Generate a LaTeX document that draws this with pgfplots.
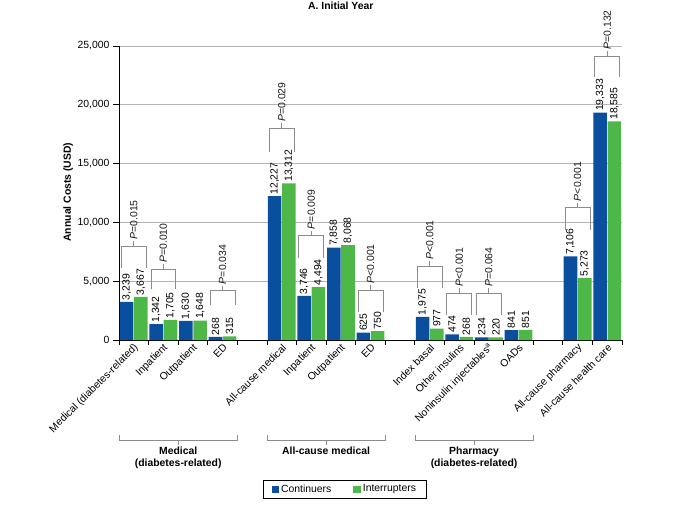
\documentclass[border=0pt]{standalone}
\usepackage{fontspec}
\setmainfont{Liberation Sans}
\usepackage{pgfplots}
\pgfplotsset{compat=1.18}
\definecolor{cblue}{HTML}{0A4F9E}
\definecolor{cgreen}{HTML}{4DB848}
\definecolor{brk}{HTML}{8C8C8C}
\definecolor{gridc}{HTML}{B4B4B4}
\newcommand{\fs}{\fontsize{10.4bp}{11.5bp}\selectfont}
\newcommand{\pbr}[4]{%
  \draw[brk, line width=0.8bp] (axis cs:#1-0.42,#2) -- (axis cs:#1-0.42,#3) -- (axis cs:#1+0.42,#3) -- (axis cs:#1+0.42,#2);
  \draw[brk, line width=0.8bp] (axis cs:#1,#3) -- (axis cs:#1,#3+425);
  \node[rotate=90, anchor=west, inner sep=1.5bp, font=\fs, text=black!90] at (axis cs:#1,#3+425) {\textit{P}#4};
}
\begin{document}
\begin{tikzpicture}[font=\fs]
\path[use as bounding box] (-119bp,-166bp) rectangle (562bp,340bp);
\begin{axis}[
  scale only axis, width=503bp, height=294bp,
  at={(0,0)}, anchor=south west,
  xmin=-0.5, xmax=16.5, ymin=0, ymax=25000,
  ybar, bar width=0.46,
  clip=false,
  axis x line*=bottom, axis y line*=left,
  axis line style={black, line width=0.8bp, -},
  ytick={0,5000,10000,15000,20000,25000},
  scaled y ticks=false,
  ymajorgrids, grid style={gridc, line width=0.7bp},
  tick align=outside,
  major tick length=6bp,
  minor tick length=5bp,
  tick style={black, line width=0.8bp},
  major x tick style=transparent,
  xtick={0,1,2,3,5,6,7,8,10,11,12,13,15,16},
  minor xtick={-0.5,0.5,1.5,2.5,3.5,4.5,5.5,6.5,7.5,8.5,9.5,10.5,11.5,12.5,13.5,14.5,15.5,16.5},
  xticklabels={Medical (diabetes-related),Inpatient,Outpatient,ED,All-cause medical,Inpatient,Outpatient,ED,Index basal,Other insulins,Noninsulin injectables\textsuperscript{a},OADs,All-cause pharmacy,All-cause health care},
  xticklabel style={rotate=45, anchor=east, font=\fs, inner sep=1bp, xshift=3bp, yshift=-2bp},
  yticklabel style={font=\fs},
  /pgf/number format/assume math mode=true,
  /pgf/number format/1000 sep={,},
  nodes near coords,
  nodes near coords style={rotate=90, anchor=west, inner sep=1.5bp, font=\fs, text=black},
  title={A. Initial Year},
  title style={at={(axis description cs:0.441,1.116)}, anchor=center, font=\fs\bfseries},
  ylabel={Annual Costs (USD)},
  ylabel style={at={(axis description cs:-0.101,0.503)}, anchor=center, font=\fs\bfseries},
  legend style={at={(axis description cs:0.449,-0.507)}, anchor=center, legend columns=2, draw=black, line width=0.8bp, font=\fs, inner xsep=8bp, inner ysep=2.5bp, /tikz/every even column/.append style={column sep=20bp}},
  legend image code/.code={\fill[#1, draw=none] (0bp,-3.5bp) rectangle (7.5bp,3.5bp);},
]
\addplot[fill=cblue, draw=none, bar shift=-0.24] coordinates {
  (0,3239) (1,1342) (2,1630) (3,268)
  (5,12227) (6,3746) (7,7858) (8,625)
  (10,1975) (11,474) (12,234) (13,841)
  (15,7106) (16,19333)};
\addlegendentry{Continuers}
\addplot[fill=cgreen, draw=none, bar shift=0.24] coordinates {
  (0,3667) (1,1705) (2,1648) (3,315)
  (5,13312) (6,4494) (7,8068) (8,750)
  (10,977) (11,268) (12,220) (13,851)
  (15,5273) (16,18585)};
\addlegendentry{Interrupters}
\pbr{0}{6148}{7993}{=0.015}
\pbr{1}{4337}{6012}{=0.010}
\pbr{3}{2976}{4192}{=0.034}
\pbr{5}{16012}{18002}{=0.029}
\pbr{6}{6947}{8869}{=0.009}
\pbr{8}{2406}{4252}{<0.001}
\pbr{10}{4396}{6293}{<0.001}
\pbr{11}{2126}{3971}{<0.001}
\pbr{12}{2126}{3971}{=0.064}
\pbr{15}{9354}{11250}{<0.001}
\pbr{16}{22390}{24150}{=0.132}
\end{axis}
% group brackets
\begin{scope}[brk, line width=0.8bp]
\draw (0bp,-95bp) -- (0bp,-100bp) -- (118.35bp,-100bp) -- (118.35bp,-95bp);
\draw (59.2bp,-100bp) -- (59.2bp,-105bp);
\draw (147.9bp,-95bp) -- (147.9bp,-100bp) -- (266.3bp,-100bp) -- (266.3bp,-95bp);
\draw (207.1bp,-100bp) -- (207.1bp,-105bp);
\draw (295.9bp,-95bp) -- (295.9bp,-100bp) -- (414.2bp,-100bp) -- (414.2bp,-95bp);
\draw (355.1bp,-100bp) -- (355.1bp,-105bp);
\end{scope}
\node[anchor=north, align=center, font=\fs\bfseries, inner sep=1bp] at (59.2bp,-106bp) {Medical\\(diabetes-related)};
\node[anchor=north, align=center, font=\fs\bfseries, inner sep=1bp] at (207.1bp,-106bp) {All-cause medical};
\node[anchor=north, align=center, font=\fs\bfseries, inner sep=1bp] at (355.1bp,-106bp) {Pharmacy\\(diabetes-related)};
\end{tikzpicture}
\end{document}
